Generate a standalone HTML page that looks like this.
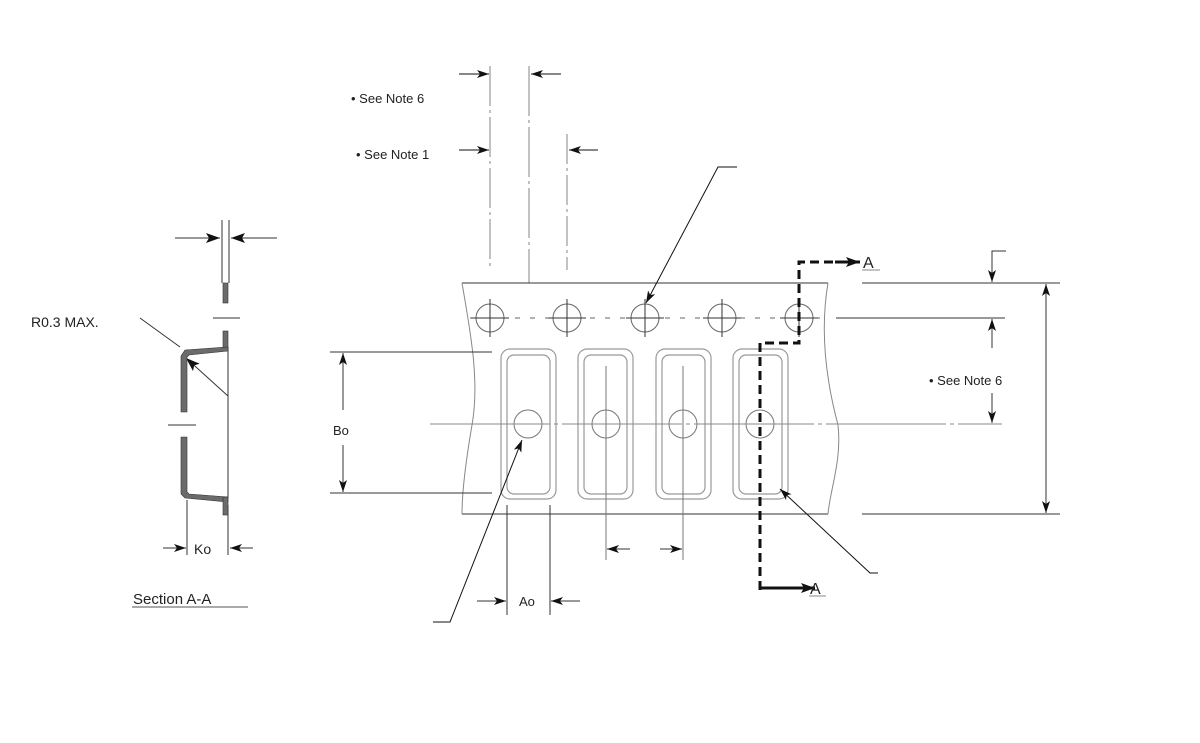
<!DOCTYPE html>
<html><head><meta charset="utf-8"><style>
html,body{margin:0;padding:0;background:#fff;}
svg{display:block;}
text{font-family:"Liberation Sans",Arial,sans-serif;fill:#222;}
</style></head><body>
<svg width="1200" height="743" viewBox="0 0 1200 743" xmlns="http://www.w3.org/2000/svg">
<defs>
<marker id="a" viewBox="0 0 12 8" refX="12" refY="4" markerWidth="12" markerHeight="8" markerUnits="userSpaceOnUse" orient="auto">
<path d="M0,0 L12,4 L0,8 L3,4 Z" fill="#111"/></marker>
<marker id="b" viewBox="0 0 14 10" refX="14" refY="5" markerWidth="14" markerHeight="10" markerUnits="userSpaceOnUse" orient="auto">
<path d="M0,0 L14,5 L0,10 L3,5 Z" fill="#111"/></marker>
</defs>

<!-- top dimension lines -->
<g stroke="#999" stroke-width="1.2" fill="none">
<line x1="490" y1="66" x2="490" y2="270" stroke-dasharray="40,4,3,4"/>
<line x1="529" y1="66" x2="529" y2="283" stroke-dasharray="50,4,3,4"/>
<line x1="567" y1="134" x2="567" y2="270" stroke-dasharray="30,4,3,4"/>
</g>
<g stroke="#111" stroke-width="1" fill="none">
<line x1="459" y1="74" x2="489" y2="74" marker-end="url(#a)"/>
<line x1="561" y1="74" x2="531" y2="74" marker-end="url(#a)"/>
<line x1="459" y1="150" x2="489" y2="150" marker-end="url(#a)"/>
<line x1="598" y1="150" x2="569" y2="150" marker-end="url(#a)"/>
</g>
<text x="351" y="103" font-size="13">• See Note 6</text>
<text x="356" y="159" font-size="13">• See Note 1</text>

<!-- tape -->
<g stroke="#555" stroke-width="1" fill="none">
<line x1="462" y1="283" x2="828" y2="283" stroke="#333"/>
<line x1="462" y1="514" x2="828" y2="514" stroke="#333"/>
<path d="M462,283 C470,330 480,380 472,425 C466,460 462,490 462,514" stroke="#888"/>
<path d="M828,283 C820,330 826,380 838,425 C842,460 830,490 828,514" stroke="#888"/>
</g>
<!-- sprocket line -->
<line x1="470" y1="318" x2="820" y2="318" stroke="#666" stroke-width="1" stroke-dasharray="5,10"/>
<g stroke="#666" stroke-width="1" fill="none">
<circle cx="490" cy="318" r="14"/><circle cx="567" cy="318" r="14"/><circle cx="645" cy="318" r="14"/><circle cx="722" cy="318" r="14"/><circle cx="799" cy="318" r="14"/>
</g>
<g stroke="#333" stroke-width="1">
<line x1="471" y1="318" x2="509" y2="318"/><line x1="490" y1="299" x2="490" y2="337"/>
<line x1="548" y1="318" x2="586" y2="318"/><line x1="567" y1="299" x2="567" y2="337"/>
<line x1="626" y1="318" x2="664" y2="318"/><line x1="645" y1="299" x2="645" y2="337"/>
<line x1="703" y1="318" x2="741" y2="318"/><line x1="722" y1="299" x2="722" y2="337"/>
<line x1="780" y1="318" x2="818" y2="318"/><line x1="799" y1="299" x2="799" y2="337"/>
</g>
<!-- pockets -->
<g stroke="#999" stroke-width="1.2" fill="none">
<rect x="501" y="349" width="55" height="150" rx="9"/><rect x="507" y="355" width="43" height="139" rx="7"/>
<rect x="578" y="349" width="55" height="150" rx="9"/><rect x="584" y="355" width="43" height="139" rx="7"/>
<rect x="656" y="349" width="55" height="150" rx="9"/><rect x="662" y="355" width="43" height="139" rx="7"/>
<rect x="733" y="349" width="55" height="150" rx="9"/><rect x="739" y="355" width="43" height="139" rx="7"/>
</g>
<g stroke="#777" stroke-width="1" fill="none">
<circle cx="528" cy="424" r="14"/><circle cx="606" cy="424" r="14"/><circle cx="683" cy="424" r="14"/><circle cx="760" cy="424" r="14"/>
<line x1="606" y1="366" x2="606" y2="560"/><line x1="683" y1="366" x2="683" y2="560"/>
</g>
<line x1="430" y1="424" x2="1002" y2="424" stroke="#888" stroke-width="1" stroke-dasharray="120,4,4,4"/>
<!-- section cut -->
<polyline points="760,590 760,343 799,343 799,262 855,262" fill="none" stroke="#111" stroke-width="3" stroke-dasharray="9,5"/>
<line x1="835" y1="262" x2="860" y2="262" stroke="#111" stroke-width="3" marker-end="url(#b)"/>
<line x1="760" y1="588" x2="815" y2="588" stroke="#111" stroke-width="3" marker-end="url(#b)"/>
<text x="863" y="268" font-size="16">A</text><line x1="862" y1="270" x2="880" y2="270" stroke="#888"/>
<text x="810" y="594" font-size="16">A</text><line x1="809" y1="596" x2="826" y2="596" stroke="#888"/>

<!-- leaders -->
<g stroke="#111" stroke-width="1" fill="none">
<polyline points="737,167 718,167 646,303" marker-end="url(#a)"/>
<polyline points="433,622 450,622 522,440" marker-end="url(#a)"/>
<polyline points="878,573 870,573 780,489" marker-end="url(#a)"/>
</g>

<!-- Bo -->
<g stroke="#333" stroke-width="1" fill="none">
<line x1="330" y1="352" x2="492" y2="352"/><line x1="330" y1="493" x2="492" y2="493"/>
<line x1="343" y1="410" x2="343" y2="353" marker-end="url(#a)"/>
<line x1="343" y1="445" x2="343" y2="492" marker-end="url(#a)"/>
</g>
<text x="333" y="435" font-size="13">Bo</text>
<!-- Ao -->
<g stroke="#333" stroke-width="1" fill="none">
<line x1="507" y1="505" x2="507" y2="615"/><line x1="550" y1="505" x2="550" y2="615"/>
<line x1="477" y1="601" x2="506" y2="601" marker-end="url(#a)"/>
<line x1="580" y1="601" x2="551" y2="601" marker-end="url(#a)"/>
<line x1="630" y1="549" x2="607" y2="549" marker-end="url(#a)"/>
<line x1="660" y1="549" x2="682" y2="549" marker-end="url(#a)"/>
</g>
<text x="519" y="606" font-size="13">Ao</text>

<!-- right dims -->
<g stroke="#333" stroke-width="1" fill="none">
<line x1="862" y1="283" x2="1060" y2="283"/>
<line x1="836" y1="318" x2="1005" y2="318"/>
<line x1="862" y1="514" x2="1060" y2="514"/>
<polyline points="1006,251 992,251 992,282" marker-end="url(#a)"/>
<line x1="992" y1="348" x2="992" y2="319" marker-end="url(#a)"/>
<line x1="992" y1="393" x2="992" y2="423" marker-end="url(#a)"/>
<line x1="1046" y1="400" x2="1046" y2="284" marker-end="url(#a)"/>
<line x1="1046" y1="400" x2="1046" y2="513" marker-end="url(#a)"/>
</g>
<text x="929" y="385" font-size="13">• See Note 6</text>

<!-- section A-A -->
<g stroke="#333" stroke-width="1" fill="none">
<line x1="222" y1="220" x2="222" y2="283"/><line x1="229" y1="220" x2="229" y2="283"/>
<line x1="175" y1="238" x2="220" y2="238" marker-end="url(#b)"/>
<line x1="277" y1="238" x2="231" y2="238" marker-end="url(#b)"/>
<line x1="228" y1="347" x2="228" y2="498"/>
<line x1="140" y1="318" x2="180" y2="347"/>
<line x1="228" y1="396" x2="186" y2="358" marker-end="url(#b)"/>
<line x1="187" y1="500" x2="187" y2="555"/><line x1="228" y1="505" x2="228" y2="555"/>
<line x1="163" y1="548" x2="186" y2="548" marker-end="url(#a)"/>
<line x1="253" y1="548" x2="230" y2="548" marker-end="url(#a)"/>
</g>
<g fill="#6b6b6b" stroke="#333" stroke-width="0.6">
<rect x="223" y="283" width="5" height="20"/>
<rect x="223" y="331" width="5" height="17"/>
<path d="M228,347 L228,351 L189,355 L187,357 L187,412 L181,412 L181,356 L185,350 Z"/>
<path d="M181,437 L187,437 L187,492 L189,494 L228,497 L228,502 L185,498 L181,494 Z"/>
<rect x="223" y="497" width="5" height="18"/>
</g>
<g stroke="#333" stroke-width="1">
<line x1="213" y1="318" x2="240" y2="318"/>
<line x1="168" y1="425" x2="196" y2="425"/>
</g>
<text x="31" y="327" font-size="14">R0.3 MAX.</text>
<text x="194" y="554" font-size="14">Ko</text>
<text x="133" y="604" font-size="15">Section A-A</text>
<line x1="132" y1="607" x2="248" y2="607" stroke="#555" stroke-width="1"/>
</svg>
</body></html>
